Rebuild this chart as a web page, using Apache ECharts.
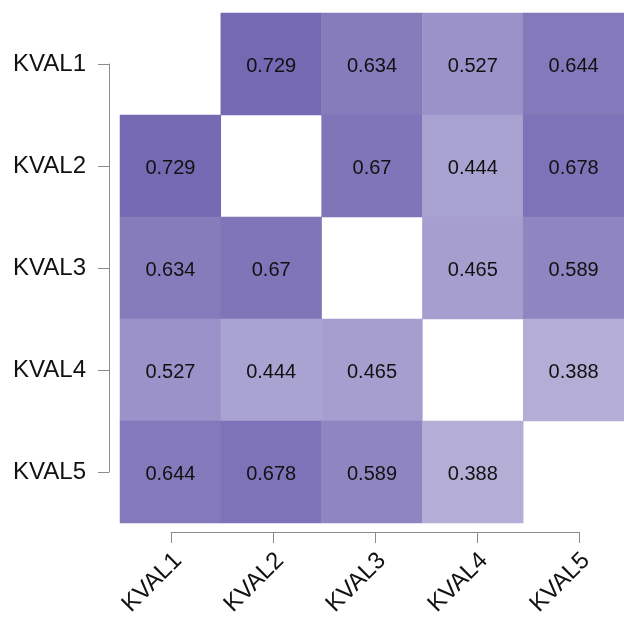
<!DOCTYPE html>
<html>
<head>
<meta charset="utf-8">
<script src="https://cdn.jsdelivr.net/npm/echarts@6/dist/echarts.min.js"></script>
<style>html,body{margin:0;padding:0;background:#fff}#c{width:624px;height:619px}</style>
</head>
<body>
<div id="c"></div>
<script>
var categories = ['KVAL1', 'KVAL2', 'KVAL3', 'KVAL4', 'KVAL5'];
var rowKVAL1 = [null, 0.729, 0.634, 0.527, 0.644];
var rowKVAL2 = [0.729, null, 0.67, 0.444, 0.678];
var rowKVAL3 = [0.634, 0.67, null, 0.465, 0.589];
var rowKVAL4 = [0.527, 0.444, 0.465, null, 0.388];
var rowKVAL5 = [0.644, 0.678, 0.589, 0.388, null];
var rows = [rowKVAL1, rowKVAL2, rowKVAL3, rowKVAL4, rowKVAL5];

var data = [];
rows.forEach(function (row, y) {
  row.forEach(function (v, x) {
    if (v !== null) data.push([x, y, v]);
  });
});

var font = '"Liberation Sans", Arial, sans-serif';
var axisGray = '#8c8c8c';

var chart = echarts.init(document.getElementById('c'), null, {renderer: 'canvas'});
chart.setOption({
  backgroundColor: '#fff',
  animation: false,
  grid: [
    {left: 120, top: 13, width: 510, height: 510},
    {left: 171, width: 408, top: 400, height: 132},
    {left: 109, top: 64, height: 408, width: 100},
    {left: 178, width: 408, top: 400, height: 132}
  ],
  xAxis: [
    {type: 'category', gridIndex: 0, data: categories, show: false},
    {type: 'value', gridIndex: 1, min: 0, max: 4, interval: 1, position: 'bottom',
     axisLine: {show: true, lineStyle: {color: axisGray, width: 1}},
     axisTick: {show: true, length: 11, lineStyle: {color: axisGray, width: 1}},
     splitLine: {show: false},
     axisLabel: {show: false}},
    {type: 'value', gridIndex: 2, show: false, min: 0, max: 1},
    {type: 'value', gridIndex: 3, min: 0, max: 4, interval: 1, position: 'bottom',
     axisLine: {show: false}, axisTick: {show: false}, splitLine: {show: false},
     axisLabel: {rotate: 45, margin: 38, color: '#111', fontSize: 24, fontFamily: font,
       formatter: function (v) { return categories[v]; }}}
  ],
  yAxis: [
    {type: 'category', gridIndex: 0, data: categories, inverse: true, show: false},
    {type: 'value', gridIndex: 1, show: false, min: 0, max: 1},
    {type: 'value', gridIndex: 2, min: 0, max: 4, interval: 1, inverse: true, position: 'left',
     axisLine: {show: true, lineStyle: {color: axisGray, width: 1}},
     axisTick: {show: true, length: 11, lineStyle: {color: axisGray, width: 1}},
     splitLine: {show: false},
     axisLabel: {margin: 23, color: '#111', fontSize: 24, fontFamily: font, padding: [4, 0, 0, 0],
       formatter: function (v) { return categories[v]; }}},
    {type: 'value', gridIndex: 3, show: false, min: 0, max: 1}
  ],
  visualMap: {
    show: false, type: 'continuous', seriesIndex: 0, dimension: 2,
    min: 0.388, max: 0.729,
    inRange: {color: ['#b4aed7', '#7469b2']}
  },
  series: [{
    type: 'heatmap',
    xAxisIndex: 0, yAxisIndex: 0,
    data: data,
    label: {show: true, color: '#111', fontSize: 20, fontFamily: font, offset: [0, 2],
      formatter: function (p) { return String(p.value[2]); }},
    itemStyle: {borderWidth: 0},
    emphasis: {disabled: true}
  }]
});
</script>
</body>
</html>
